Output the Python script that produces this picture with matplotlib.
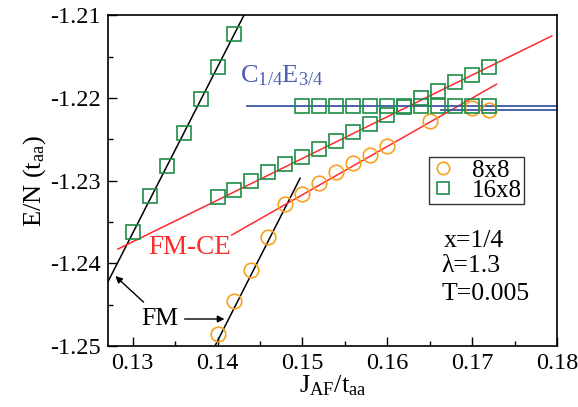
import matplotlib
matplotlib.use("Agg")
import matplotlib.pyplot as plt
from matplotlib.ticker import MultipleLocator, FormatStrFormatter

plt.rcParams['font.family'] = ['Liberation Serif', 'DejaVu Serif']
plt.rcParams['mathtext.fontset'] = 'custom'
plt.rcParams['mathtext.rm'] = 'Liberation Serif'
plt.rcParams['mathtext.it'] = 'Liberation Serif:italic'
plt.rcParams['axes.unicode_minus'] = False

# 16x8 cluster, FM branch
jaf_16_fm = [0.130, 0.132, 0.134, 0.136, 0.138, 0.140, 0.142]
e_16_fm = [-1.2362, -1.2319, -1.2282, -1.2242, -1.2201, -1.2162, -1.2122]

# 16x8 cluster, FM-CE branch
jaf_16_ce = [0.140, 0.142, 0.144, 0.146, 0.148, 0.150, 0.152, 0.154, 0.156,
             0.158, 0.160, 0.162, 0.164, 0.166, 0.168, 0.170, 0.172]
e_16_ce = [-1.2320, -1.2311, -1.2300, -1.2290, -1.2280, -1.2271, -1.2262,
           -1.2252, -1.2241, -1.2231, -1.2221, -1.2211, -1.2200, -1.2191,
           -1.2181, -1.2172, -1.2162]

# 16x8 cluster, C1/4E3/4 branch
jaf_16_c = [0.150, 0.152, 0.154, 0.156, 0.158, 0.160, 0.162, 0.164, 0.166,
            0.168, 0.170, 0.172]
e_16_c = [-1.2209, -1.2209, -1.2209, -1.2209, -1.2209, -1.2209, -1.2209,
          -1.2209, -1.2209, -1.2209, -1.2209, -1.2209]

# 8x8 cluster
jaf_8 = [0.140, 0.142, 0.144, 0.146, 0.148, 0.150, 0.152, 0.154, 0.156,
         0.158, 0.160, 0.165, 0.170, 0.172]
e_8 = [-1.2486, -1.2446, -1.2408, -1.2368, -1.2328, -1.2316, -1.2303,
       -1.2290, -1.2278, -1.2269, -1.2258, -1.2228, -1.2212, -1.2214]

# Fitted lines (end points)
fm16_x = [0.1271, 0.1431]
fm16_y = [-1.2422, -1.2100]
fm8_x = [0.13965, 0.14973]
fm8_y = [-1.2501, -1.2297]
ce16_x = [0.12827, 0.17938]
ce16_y = [-1.23827, -1.21248]
ce8_x = [0.14168, 0.17286]
ce8_y = [-1.23657, -1.21833]
c16_x = [0.14345, 0.1800]
c16_y = [-1.2210, -1.2210]
c8_x = [0.16632, 0.1800]
c8_y = [-1.2215, -1.2215]

green = '#1f8c46'
orange = '#f7a21e'
red = '#ff2a2a'
blue = '#3c56a6'

fig = plt.figure(figsize=(5.78, 4.07), dpi=100)
ax = fig.add_axes([0.1869, 0.150, 0.7768, 0.812])

ax.plot(fm16_x, fm16_y, color='black', lw=1.1)
ax.plot(fm8_x, fm8_y, color='black', lw=1.1)
ax.plot(ce16_x, ce16_y, color=red, lw=1.1)
ax.plot(ce8_x, ce8_y, color=red, lw=1.1)
ax.plot(c16_x, c16_y, color=blue, lw=1.3)
ax.plot(c8_x, c8_y, color=blue, lw=1.3)

ax.plot(jaf_8, e_8, ls='none', marker='o', ms=10.5, mfc='none', mec=orange,
        mew=1.2, label='8x8')
ax.plot(jaf_16_fm, e_16_fm, ls='none', marker='s', ms=9.5, mfc='none',
        mec=green, mew=1.2, label='16x8')
ax.plot(jaf_16_ce, e_16_ce, ls='none', marker='s', ms=9.5, mfc='none',
        mec=green, mew=1.2)
ax.plot(jaf_16_c, e_16_c, ls='none', marker='s', ms=9.5, mfc='none',
        mec=green, mew=1.2)

ax.set_xlim(0.1271, 0.18)
ax.set_ylim(-1.25, -1.21)
ax.xaxis.set_major_locator(MultipleLocator(0.01))
ax.xaxis.set_minor_locator(MultipleLocator(0.005))
ax.yaxis.set_major_locator(MultipleLocator(0.01))
ax.yaxis.set_minor_locator(MultipleLocator(0.005))
ax.xaxis.set_major_formatter(FormatStrFormatter('%.2f'))
ax.yaxis.set_major_formatter(FormatStrFormatter('%.2f'))
ax.tick_params(which='both', direction='in', top=False, right=False,
               labelsize=17.5, width=1.0)
ax.tick_params(which='major', length=6.5, pad=5)
ax.tick_params(which='minor', length=3.5)
for s in ax.spines.values():
    s.set_linewidth(1.2)

ax.set_xlabel(r'J$_{\mathrm{AF}}$/t$_{\mathrm{aa}}$', fontsize=19, labelpad=0)
ax.set_ylabel(r'E/N (t$_{\mathrm{aa}}$)', fontsize=19, labelpad=2)

ax.text(0.14259, -1.21805, r'C$_{\mathrm{1/4}}$E$_{\mathrm{3/4}}$',
        color='#4a5fb0', fontsize=19, ha='left', va='baseline')
ax.text(0.1318, -1.2389, 'FM-CE', color=red, fontsize=19.5, ha='left',
        va='baseline')
ax.text(0.13102, -1.2475, 'FM', color='black', fontsize=18.5, ha='left',
        va='baseline')

arrow = dict(arrowstyle='-|>', lw=1.0, color='black', mutation_scale=10,
             shrinkA=0, shrinkB=0)
ax.annotate('', xy=(0.12796, -1.24154), xytext=(0.13129, -1.2447),
            arrowprops=arrow)
ax.annotate('', xy=(0.14082, -1.24674), xytext=(0.13612, -1.24674),
            arrowprops=arrow)

ax.text(0.16671, -1.23799, 'x=1/4', fontsize=18.5, ha='left', va='baseline')
ax.text(0.16636, -1.2410, 'λ=1.3', fontsize=18.5, ha='left', va='baseline')
ax.text(0.16636, -1.24444, 'T=0.005', fontsize=18.5, ha='left',
        va='baseline')

leg = ax.legend(loc='upper left', bbox_to_anchor=(0.715, 0.572),
                fontsize=18, frameon=True, fancybox=False, borderpad=0.1,
                labelspacing=-0.1, handlelength=0.9, handletextpad=0.7,
                borderaxespad=0, markerscale=0.85)
leg.get_frame().set_edgecolor('black')
leg.get_frame().set_linewidth(1.0)

fig.savefig('out.png', dpi=100)
